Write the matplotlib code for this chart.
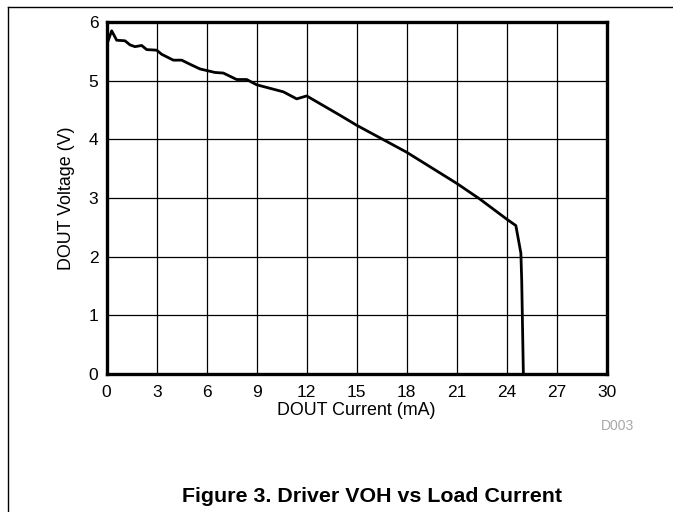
import matplotlib.pyplot as plt
from matplotlib.lines import Line2D

plt.rcParams['font.family'] = ['Liberation Sans', 'DejaVu Sans']

# DOUT current (mA) vs DOUT voltage (V)
current_ma = [0.0, 0.3, 0.6, 1.1, 1.4, 1.7, 2.1, 2.4, 3.0, 3.3, 4.0, 4.5, 5.0,
              5.6, 6.5, 7.0, 7.8, 8.4, 9.0, 9.8, 10.6, 11.4, 12.0, 14.0, 15.0,
              18.0, 21.0, 22.4, 24.0, 24.55, 24.85, 24.9, 25.0]
voltage_v = [5.61, 5.85, 5.69, 5.68, 5.61, 5.58, 5.60, 5.53, 5.52, 5.45, 5.35,
             5.35, 5.28, 5.20, 5.14, 5.13, 5.02, 5.02, 4.93, 4.87, 4.81, 4.69,
             4.74, 4.41, 4.24, 3.78, 3.25, 2.98, 2.64, 2.53, 2.06, 1.60, 0.0]

x_ticks = [0, 3, 6, 9, 12, 15, 18, 21, 24, 27, 30]
y_ticks = [0, 1, 2, 3, 4, 5, 6]

fig = plt.figure(figsize=(6.73, 5.12), dpi=100)
ax = fig.add_axes([0.1585, 0.2695, 0.743, 0.6875])

ax.plot(current_ma, voltage_v, color='black', linewidth=2.0, zorder=3)

ax.set_xlim(0, 30)
ax.set_ylim(0, 6)
ax.set_xticks(x_ticks)
ax.set_yticks(y_ticks)
ax.grid(True, color='black', linewidth=0.9)
ax.tick_params(length=0, labelsize=12.5)
ax.tick_params(axis='x', pad=8)
ax.tick_params(axis='y', pad=6)
for s in ax.spines.values():
    s.set_linewidth(2.4)

ax.set_xlabel('DOUT Current (mA)', fontsize=12.9, labelpad=1)
ax.set_ylabel('DOUT Voltage (V)', fontsize=12.9, labelpad=10)

# page frame lines
fig.add_artist(Line2D([8 / 673, 1], [1 - 7 / 512] * 2, color='black', linewidth=1.0))
fig.add_artist(Line2D([8 / 673] * 2, [0, 1 - 7 / 512], color='black', linewidth=1.0))

fig.text(618 / 673, 1 - 426 / 512, 'D003', color='#a8a8a8', fontsize=10,
         ha='center', va='center')
fig.text(372 / 673, 1 - 502 / 512, 'Figure 3. Driver VOH vs Load Current',
         fontsize=15.4, fontweight='bold', ha='center', va='baseline')

fig.savefig('out.png', dpi=100)
